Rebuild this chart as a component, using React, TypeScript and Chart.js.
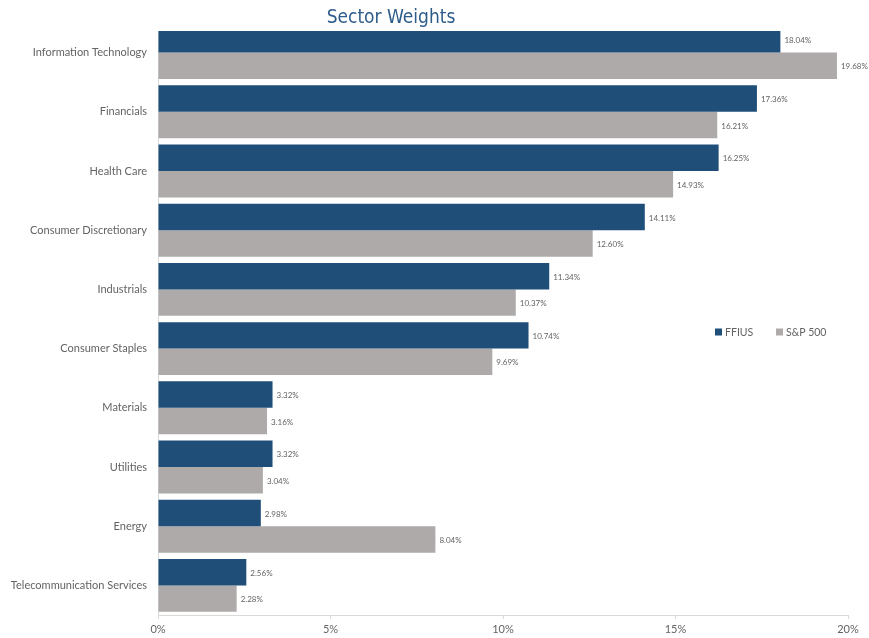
import React, { useEffect, useRef } from "react";
import { Chart, registerables } from "chart.js";

Chart.register(...registerables);

const categories = [
  "Information Technology",
  "Financials",
  "Health Care",
  "Consumer Discretionary",
  "Industrials",
  "Consumer Staples",
  "Materials",
  "Utilities",
  "Energy",
  "Telecommunication Services",
];
const ffiusValues = [18.04, 17.36, 16.25, 14.11, 11.34, 10.74, 3.32, 3.32, 2.98, 2.56];
const spValues = [19.68, 16.21, 14.93, 12.6, 10.37, 9.69, 3.16, 3.04, 8.04, 2.28];
const seriesNames = ["FFIUS", "S&P 500"];
const xTicks = [0, 5, 10, 15, 20];
const titleText = "Sector Weights";

const BLUE = "#1F4E79";
const GREY = "#AEAAAA";
const TEXT = "#636363";
const FONT = "Lato, 'Open Sans', sans-serif";

export default function App() {
  const ref = useRef<HTMLCanvasElement | null>(null);

  useEffect(() => {
    document.body.style.margin = "0";
    const canvas = ref.current;
    if (!canvas) return;

    const overlay = {
      id: "overlay",
      afterDatasetsDraw(chart: any) {
        const ctx = chart.ctx;
        ctx.save();
        ctx.font = `8px ${FONT}`;
        ctx.fillStyle = TEXT;
        ctx.textAlign = "left";
        ctx.textBaseline = "middle";
        chart.data.datasets.forEach((ds: any, di: number) => {
          const meta = chart.getDatasetMeta(di);
          meta.data.forEach((el: any, i: number) => {
            const v = ds.data[i] as number;
            ctx.fillText(v.toFixed(2) + "%", el.x + 4, el.y + 1);
          });
        });
        ctx.restore();
      },
      afterDraw(chart: any) {
        const ctx = chart.ctx;
        ctx.save();
        ctx.fillStyle = "#ffffff";
        ctx.fillRect(150, 0, chart.width - 150, 31);
        ctx.font = `19px 'Liberation Sans Narrow', 'DejaVu Sans Condensed', sans-serif`;
        ctx.fillStyle = "#2E5C8A";
        ctx.textAlign = "center";
        ctx.textBaseline = "middle";
        ctx.fillText(titleText, 391, 18.5);
        ctx.font = `10.5px ${FONT}`;
        ctx.textAlign = "left";
        let x = 715;
        const y = 332;
        chart.data.datasets.forEach((ds: any) => {
          ctx.fillStyle = ds.backgroundColor;
          ctx.fillRect(x, y - 3.5, 7, 7);
          ctx.fillStyle = TEXT;
          ctx.fillText(ds.label, x + 10, y + 0.5);
          x += 61;
        });
        ctx.restore();
      },
    };

    const chart = new Chart(canvas, {
      type: "bar",
      data: {
        labels: categories,
        datasets: [
          { label: seriesNames[0], data: ffiusValues, backgroundColor: BLUE },
          { label: seriesNames[1], data: spValues, backgroundColor: GREY },
        ],
      },
      options: {
        indexAxis: "y",
        responsive: false,
        animation: false,
        layout: { padding: { top: 23, right: 21, left: 0, bottom: 0 } },
        datasets: {
          bar: { categoryPercentage: 0.894, barPercentage: 1, borderWidth: 0 },
        },
        plugins: {
          legend: { display: false },
          title: { display: false },
          tooltip: { enabled: false },
        },
        scales: {
          x: {
            min: 0,
            max: 20,
            afterBuildTicks(scale: any) {
              scale.ticks = xTicks.map((v) => ({ value: v }));
            },
            afterFit(scale: any) {
              scale.height = 23;
            },
            ticks: {
              callback: (v: any) => `${v}%`,
              color: TEXT,
              font: { family: FONT, size: 11 },
              padding: 4,
              maxRotation: 0,
            },
            grid: { drawOnChartArea: false, drawTicks: true, tickLength: 4, color: "#D9D9D9" },
            border: { color: "#D9D9D9" },
          },
          y: {
            afterFit(scale: any) {
              scale.width = 158;
            },
            ticks: {
              color: TEXT,
              font: { family: FONT, size: 11 },
              padding: 11,
              autoSkip: false,
            },
            grid: { drawOnChartArea: false, drawTicks: false },
            border: { color: "#D9D9D9" },
          },
        },
      },
      plugins: [overlay],
    });

    return () => chart.destroy();
  }, []);

  return (
    <div style={{ width: 869, height: 638 }}>
      <canvas ref={ref} width={869} height={638} style={{ display: "block" }} />
    </div>
  );
}
